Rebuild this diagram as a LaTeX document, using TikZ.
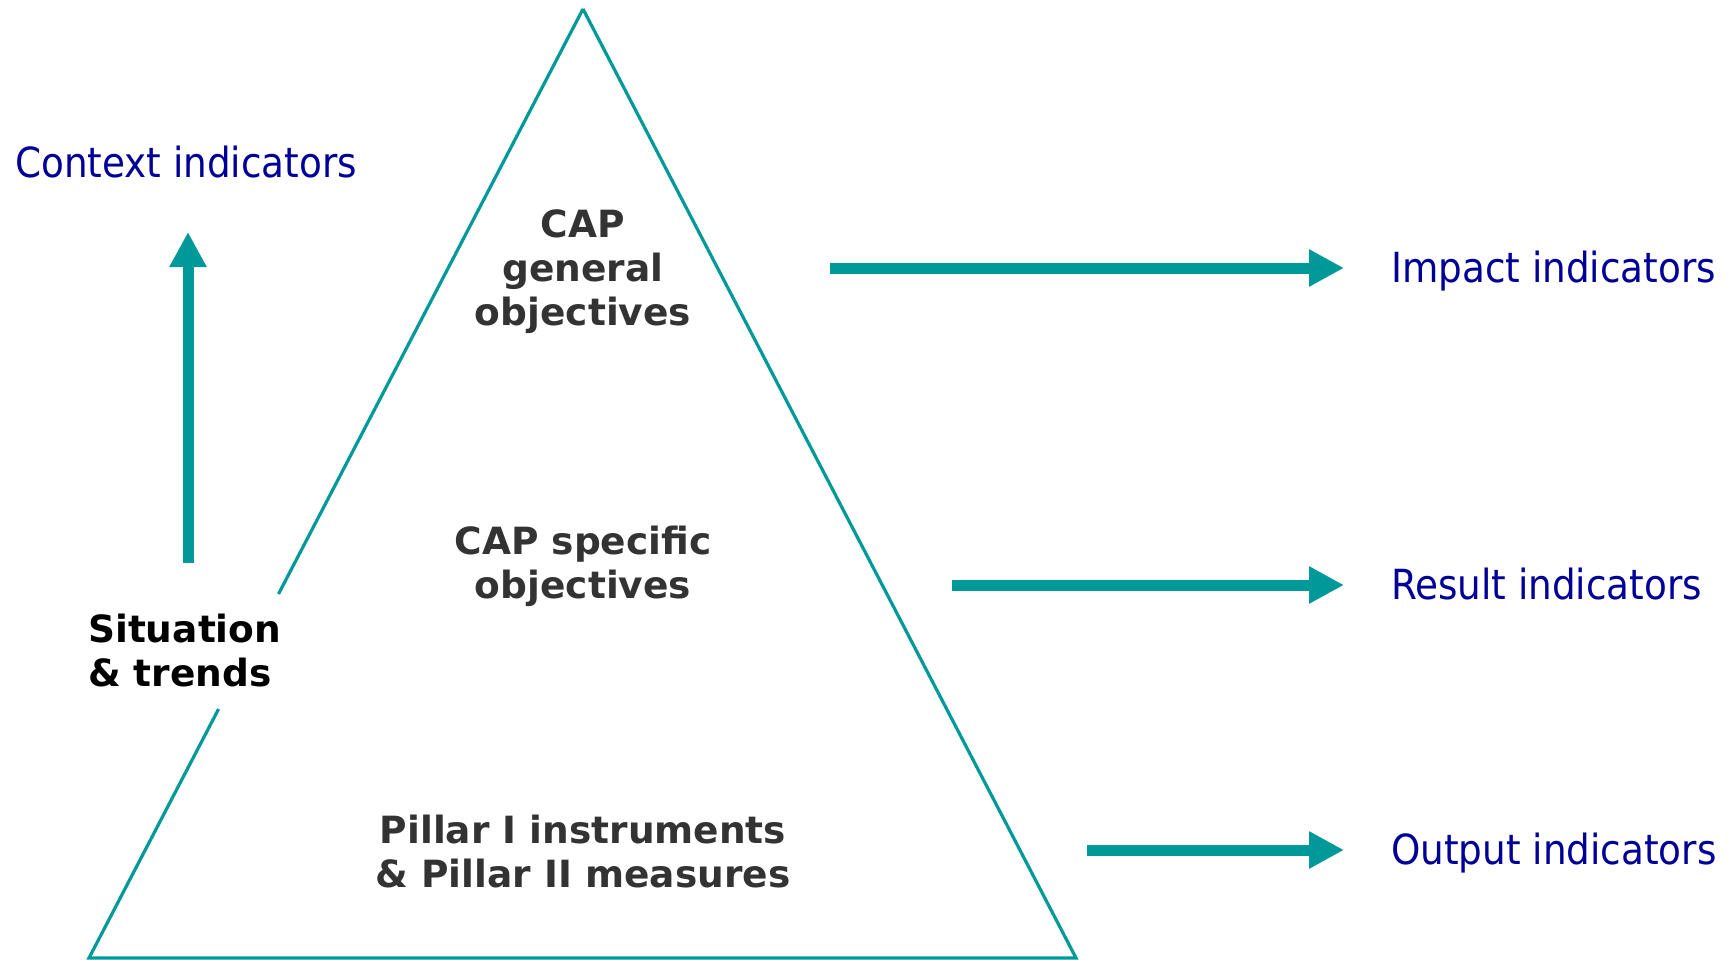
\documentclass[tikz,border=0pt]{standalone}
\usepackage{fontspec}
\setmainfont{DejaVu Sans}
\newfontfamily\condfont{DejaVu Sans Condensed}
\usetikzlibrary{arrows.meta}
\definecolor{capteal}{RGB}{0,153,153}
\definecolor{capblue}{RGB}{0,0,153}
\definecolor{capgray}{RGB}{51,51,51}
\tikzset{
  tri/.style={draw=capteal, line width=3.2pt, line join=miter},
  bigarrow/.style={draw=capteal, line width=11pt, -{Triangle[length=35pt,width=35pt]}},
  objtext/.style={font=\bfseries\fontsize{37.5}{44}\selectfont, text=capgray, align=center, inner sep=0pt},
  sittext/.style={font=\bfseries\fontsize{37.5}{44}\selectfont, text=black, align=left, inner sep=0pt},
  indtext/.style={font=\condfont\fontsize{41.5}{48}\selectfont, text=capblue, inner sep=0pt, anchor=base west}
}
\begin{document}
\begin{tikzpicture}[x=1pt,y=-1pt]
\useasboundingbox (0,0) rectangle (1731,960);
% triangle
\coordinate (apex) at (583,9);
\coordinate (bl) at (89,958);
\coordinate (br) at (1076,958);
\coordinate (gaptop) at (278.5,594);
\coordinate (gapbot) at (218.6,709);
\draw[tri] (apex) -- (gaptop);
\draw[tri] (gapbot) -- (bl) -- (br) -- (apex);
% objective texts
\node[objtext] (general) at (583,272) {CAP\\general\\objectives};
\node[objtext] (specific) at (583,566.5) {CAP specific\\objectives};
\node[objtext] (pillar) at (583,852) {Pillar I instruments\\\& Pillar II measures};
\node[sittext, anchor=west] (situation) at (88,651) {Situation\\\& trends};
% indicator labels
\node[indtext] (context) at (15,177.5) {Context indicators};
\node[indtext] (impact) at (1391,282) {Impact indicators};
\node[indtext] (result) at (1391,599.5) {Result indicators};
\node[indtext] (output) at (1391,864) {Output indicators};
% arrows
\coordinate (upstart) at (188,563);
\coordinate (uptip) at (188,232);
\coordinate (impstart) at (830,268);
\coordinate (imptip) at (1344,268);
\coordinate (resstart) at (952,585);
\coordinate (restip) at (1344,585);
\coordinate (outstart) at (1087,850);
\coordinate (outtip) at (1344,850);
\draw[bigarrow] (upstart) -- (uptip);
\draw[bigarrow] (impstart) -- (imptip);
\draw[bigarrow] (resstart) -- (restip);
\draw[bigarrow] (outstart) -- (outtip);
\end{tikzpicture}
\end{document}
